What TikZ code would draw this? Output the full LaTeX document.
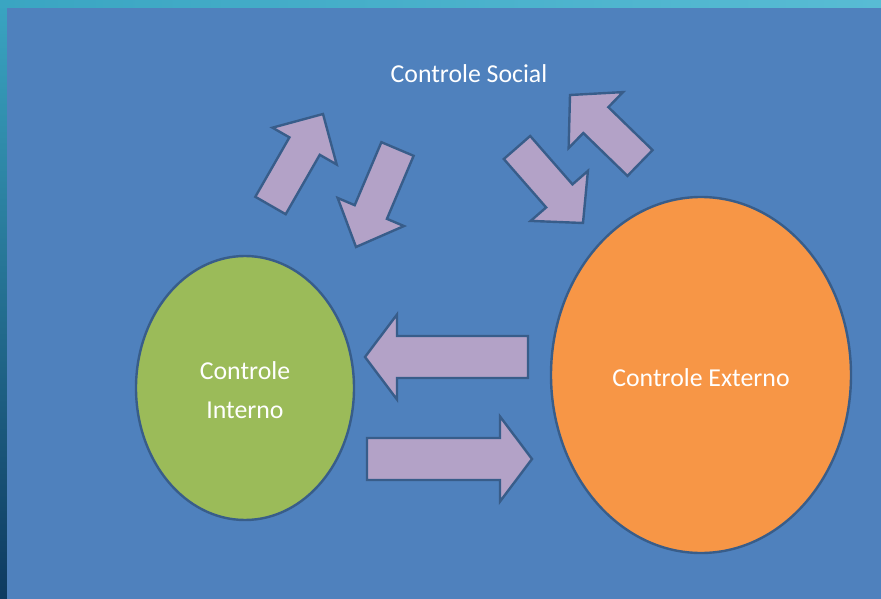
\documentclass[tikz,border=0pt]{standalone}
\usepackage{fontspec}
\setmainfont{Carlito}
\usetikzlibrary{calc,shapes.geometric}
\definecolor{bgblue}{RGB}{79,129,189}
\definecolor{edgeblue}{RGB}{56,93,138}
\definecolor{lav}{RGB}{179,162,199}
\definecolor{grn}{RGB}{155,187,89}
\definecolor{org}{RGB}{247,150,70}
\definecolor{tealA}{RGB}{58,165,194}
\definecolor{tealB}{RGB}{88,188,212}
\definecolor{navy}{RGB}{14,58,96}
\tikzset{
  blob/.style={ellipse, draw=edgeblue, line width=2.4pt, text=white, align=center,
    font=\fontsize{25.8}{39}\selectfont, inner sep=0pt},
  barrow/.style={draw=edgeblue, fill=lav, line width=2.4pt, line join=miter},
  lbl/.style={text=white, font=\fontsize{25.8}{31}\selectfont, inner sep=0pt}
}
\newcommand\blockarr[5]{%
  \coordinate (hb) at ($(#2)!#5!(#1)$);
  \draw[barrow] ($(#1)!#3!90:(#2)$) -- ($(hb)!#3!90:(#2)$) -- ($(hb)!#4!90:(#2)$)
    -- (#2) -- ($(hb)!#4!-90:(#2)$) -- ($(hb)!#3!-90:(#2)$) -- ($(#1)!#3!-90:(#2)$) -- cycle;}
\begin{document}
\begin{tikzpicture}[x=1pt,y=-1pt]
\useasboundingbox (0,0) rectangle (881,599);
\shade[top color=tealA, bottom color=navy] (0,0) rectangle (7,599);
\shade[left color=tealA, right color=tealB] (0,0) rectangle (881,8);
\fill[bgblue] (7,8) rectangle (881,599);

\node[blob, fill=grn, minimum width=218pt, minimum height=264pt] (ci) at (245,388) {};
\node[blob, fill=org, minimum width=300pt, minimum height=356pt] (ce) at (701,375) {};
\node[lbl, align=center, font=\fontsize{25.8}{39}\selectfont] (citext) at (245,390) {Controle\\Interno};
\node[lbl] (cetext) at (701,378) {Controle Externo};
\node[lbl] (cs) at (469,74) {Controle Social};

\coordinate (a1b) at (528,357); \coordinate (a1t) at (365,357);
\coordinate (a2b) at (367,459); \coordinate (a2t) at (532,459);
\coordinate (a3b) at (270.5,205.5); \coordinate (a3t) at (323,114);
\coordinate (a4b) at (397.5,149); \coordinate (a4t) at (356,247);
\coordinate (a5b) at (517,147.5); \coordinate (a5t) at (583,223);
\coordinate (a6b) at (640,163); \coordinate (a6t) at (570,95);

\blockarr{a1b}{a1t}{21pt}{42.5pt}{32pt}
\blockarr{a2b}{a2t}{21pt}{42.5pt}{32pt}
\blockarr{a3b}{a3t}{17.5pt}{37pt}{37pt}
\blockarr{a4b}{a4t}{17.5pt}{36pt}{38pt}
\blockarr{a5b}{a5t}{17.5pt}{38pt}{36pt}
\blockarr{a6b}{a6t}{18pt}{39pt}{36pt}
\end{tikzpicture}
\end{document}
